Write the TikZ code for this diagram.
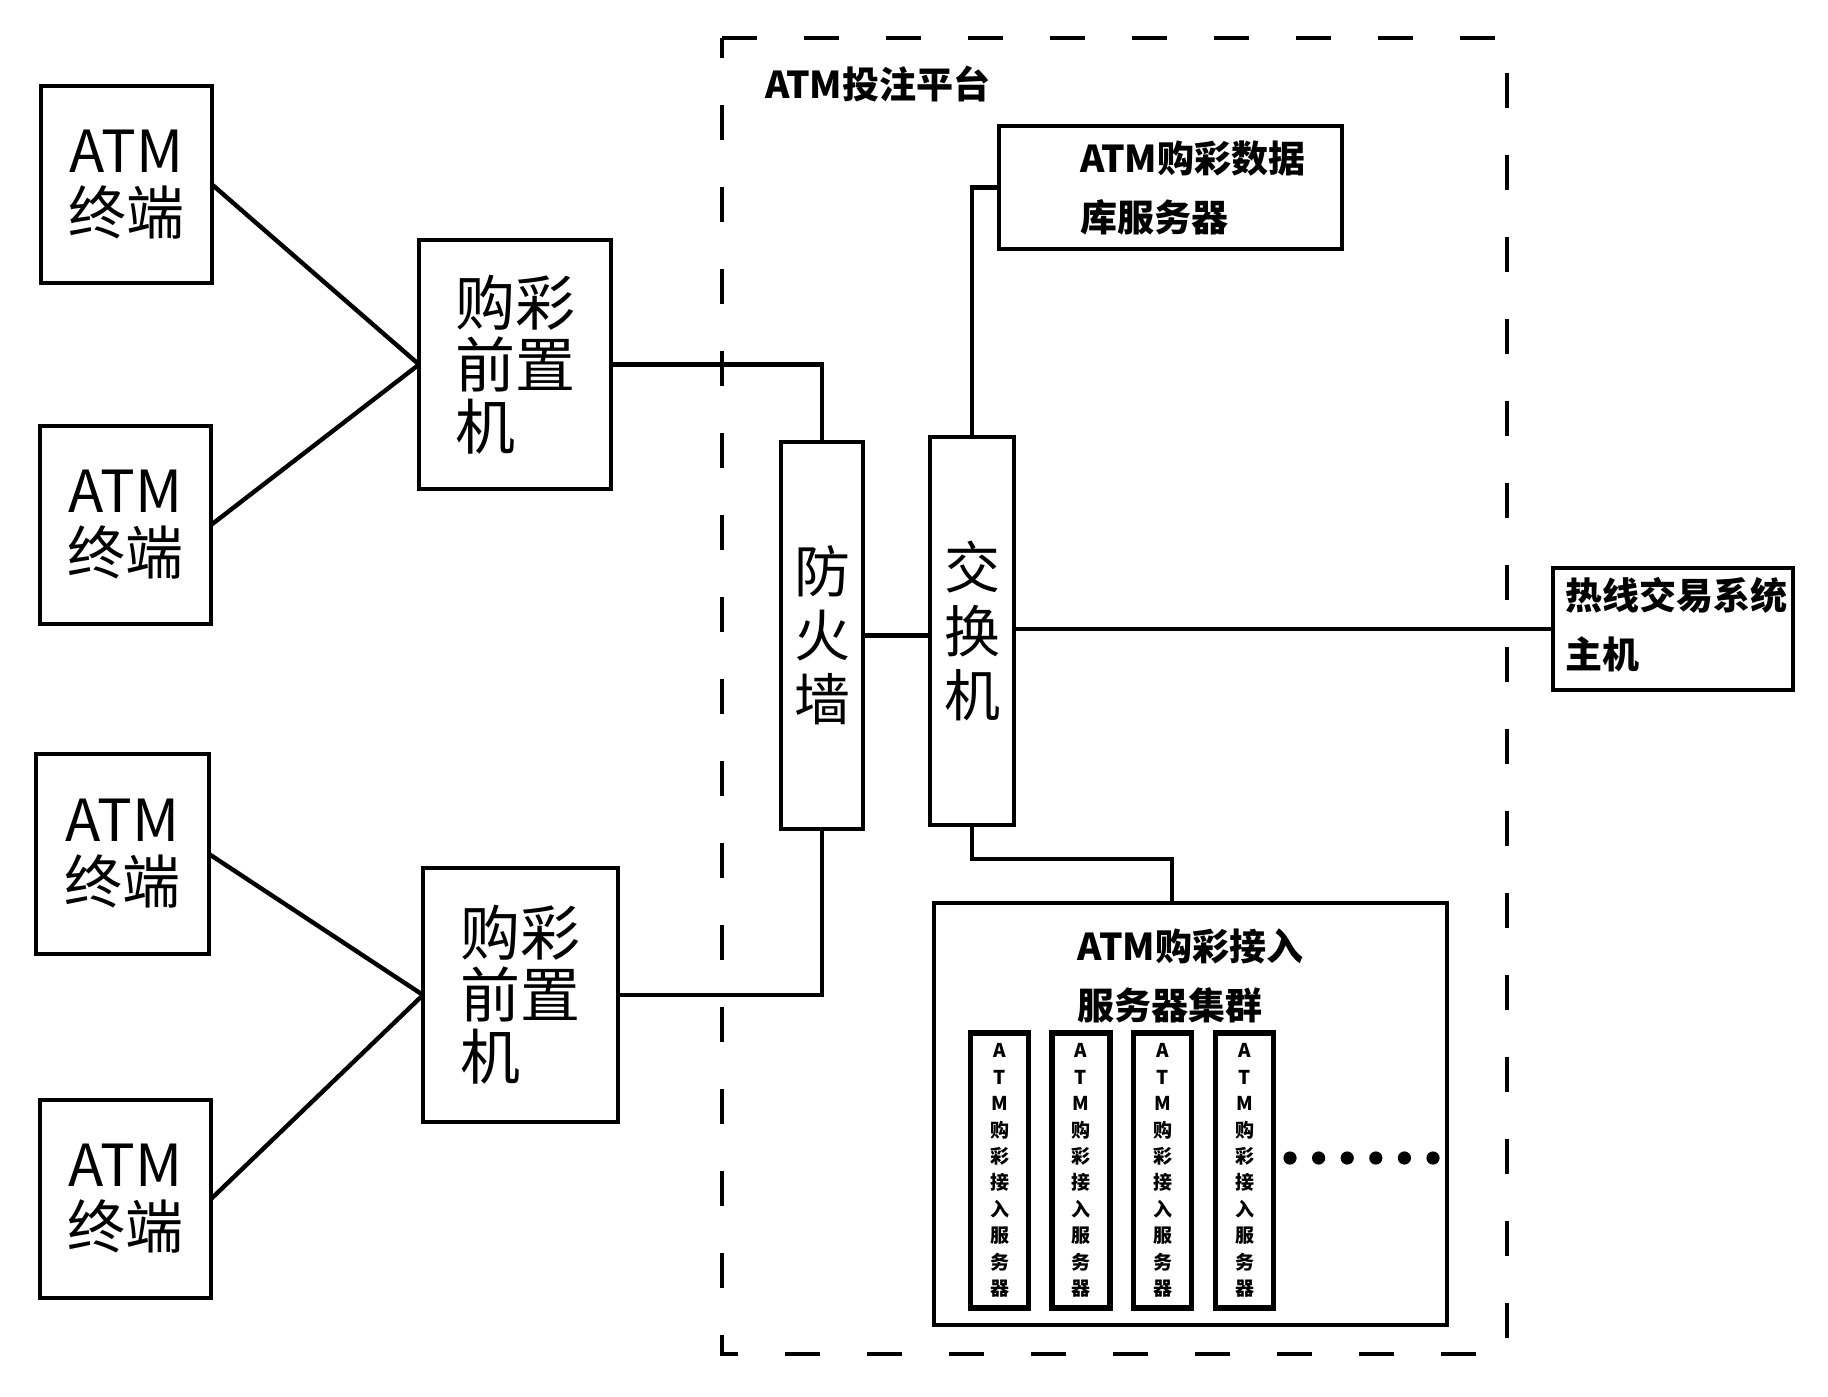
\documentclass[tikz,border=0pt]{standalone}
\usepackage{fontspec}
\setmainfont{Noto Sans CJK SC}
\usetikzlibrary{calc}
\begin{document}
\begin{tikzpicture}[x=0.5pt,y=-0.5pt, line width=2.2pt,
  box/.style={draw, line width=2.2pt, inner sep=0pt, outer sep=0pt, align=center},
  termtxt/.style={font=\fontsize{29}{31}\selectfont},
  pretxt/.style={font=\fontsize{30}{31}\selectfont, align=left},
  colt/.style={font=\fontsize{28}{32}\selectfont},
  lbl/.style={inner sep=0pt, outer sep=0pt, font=\bfseries\fontsize{18.5}{29.5}\selectfont},
  sub/.style={draw, line width=2.6pt, inner sep=0pt, outer sep=0pt, minimum width=29pt,
    minimum height=137.5pt, align=center, font=\bfseries\fontsize{9.5}{13.2}\selectfont},
  frame/.style={line width=2.2pt, dash pattern=on 17.5pt off 23.5pt}]
\useasboundingbox (0,0) rectangle (1828,1397);

% dashed platform frame
\draw[frame] (722,38) -- (1507,38) -- (1507,1354) -- (722,1354) -- cycle;
\node[lbl, anchor=west] (title) at (765,84) {ATM投注平台};

% ATM terminals
\node[box, termtxt, minimum width=85.5pt, minimum height=98.5pt] (atm1) at (126.5,184.5) {ATM\\终端};
\node[box, termtxt, minimum width=85.5pt, minimum height=99pt] (atm2) at (125.5,525) {ATM\\终端};
\node[box, termtxt, minimum width=86.5pt, minimum height=100pt] (atm3) at (122.5,854) {ATM\\终端};
\node[box, termtxt, minimum width=85.5pt, minimum height=99pt] (atm4) at (125.5,1199) {ATM\\终端};

% front-end machines
\node[box, pretxt, minimum width=96pt, minimum height=124.5pt] (pre1) at (515,364.5) {购彩\\前置\\机};
\node[box, pretxt, minimum width=97.5pt, minimum height=127pt] (pre2) at (520.5,995) {购彩\\前置\\机};

% firewall and switch
\node[box, colt, minimum width=41pt, minimum height=193.5pt] (fw) at (822,635.5) {防\\火\\墙};
\node[box, colt, minimum width=42pt, minimum height=194pt] (sw) at (972,631) {交\\换\\机};

% database server
\node[box, minimum width=171.5pt, minimum height=61.5pt] (db) at (1170.5,187.5) {};
\node[lbl, anchor=west, align=left] (dbt) at (1080,187.5) {ATM购彩数据\\库服务器};

% hotline host
\node[box, minimum width=120pt, minimum height=61pt] (host) at (1673,629) {};
\node[lbl, anchor=west, align=left] (hostt) at (1565,625) {热线交易系统\\主机};

% access server cluster
\node[box, minimum width=256.5pt, minimum height=211pt] (cl) at (1190.5,1114) {};
\node[lbl, align=left] (clt) at (1190.5,975.5) {ATM购彩接入\\服务器集群};
\node[sub] (s1) at (999.5,1170.5) {A\\T\\M\\购\\彩\\接\\入\\服\\务\\器};
\node[sub] (s2) at (1081,1170.5) {A\\T\\M\\购\\彩\\接\\入\\服\\务\\器};
\node[sub] (s3) at (1162.5,1170.5) {A\\T\\M\\购\\彩\\接\\入\\服\\务\\器};
\node[sub] (s4) at (1244.5,1170.5) {A\\T\\M\\购\\彩\\接\\入\\服\\务\\器};
\foreach \i in {0,...,5} \fill (1290+28.6*\i,1158) circle (3.3pt);

% connectors
\draw (atm1.east) -- (pre1.west);
\draw (atm2.east) -- (pre1.west);
\draw (atm3.east) -- (pre2.west);
\draw (atm4.east) -- (pre2.west);
\draw (pre1.east) -| (fw.north);
\draw (pre2.east) -| (fw.south);
\draw (fw.east) -- (fw.east -| sw.west);
\draw (sw.north) |- (db.west);
\draw (host.west -| sw.east) -- (host.west);
\draw (sw.south) -- ++(0,34) -| ([xshift=-9.25pt]cl.north);
\end{tikzpicture}
\end{document}
